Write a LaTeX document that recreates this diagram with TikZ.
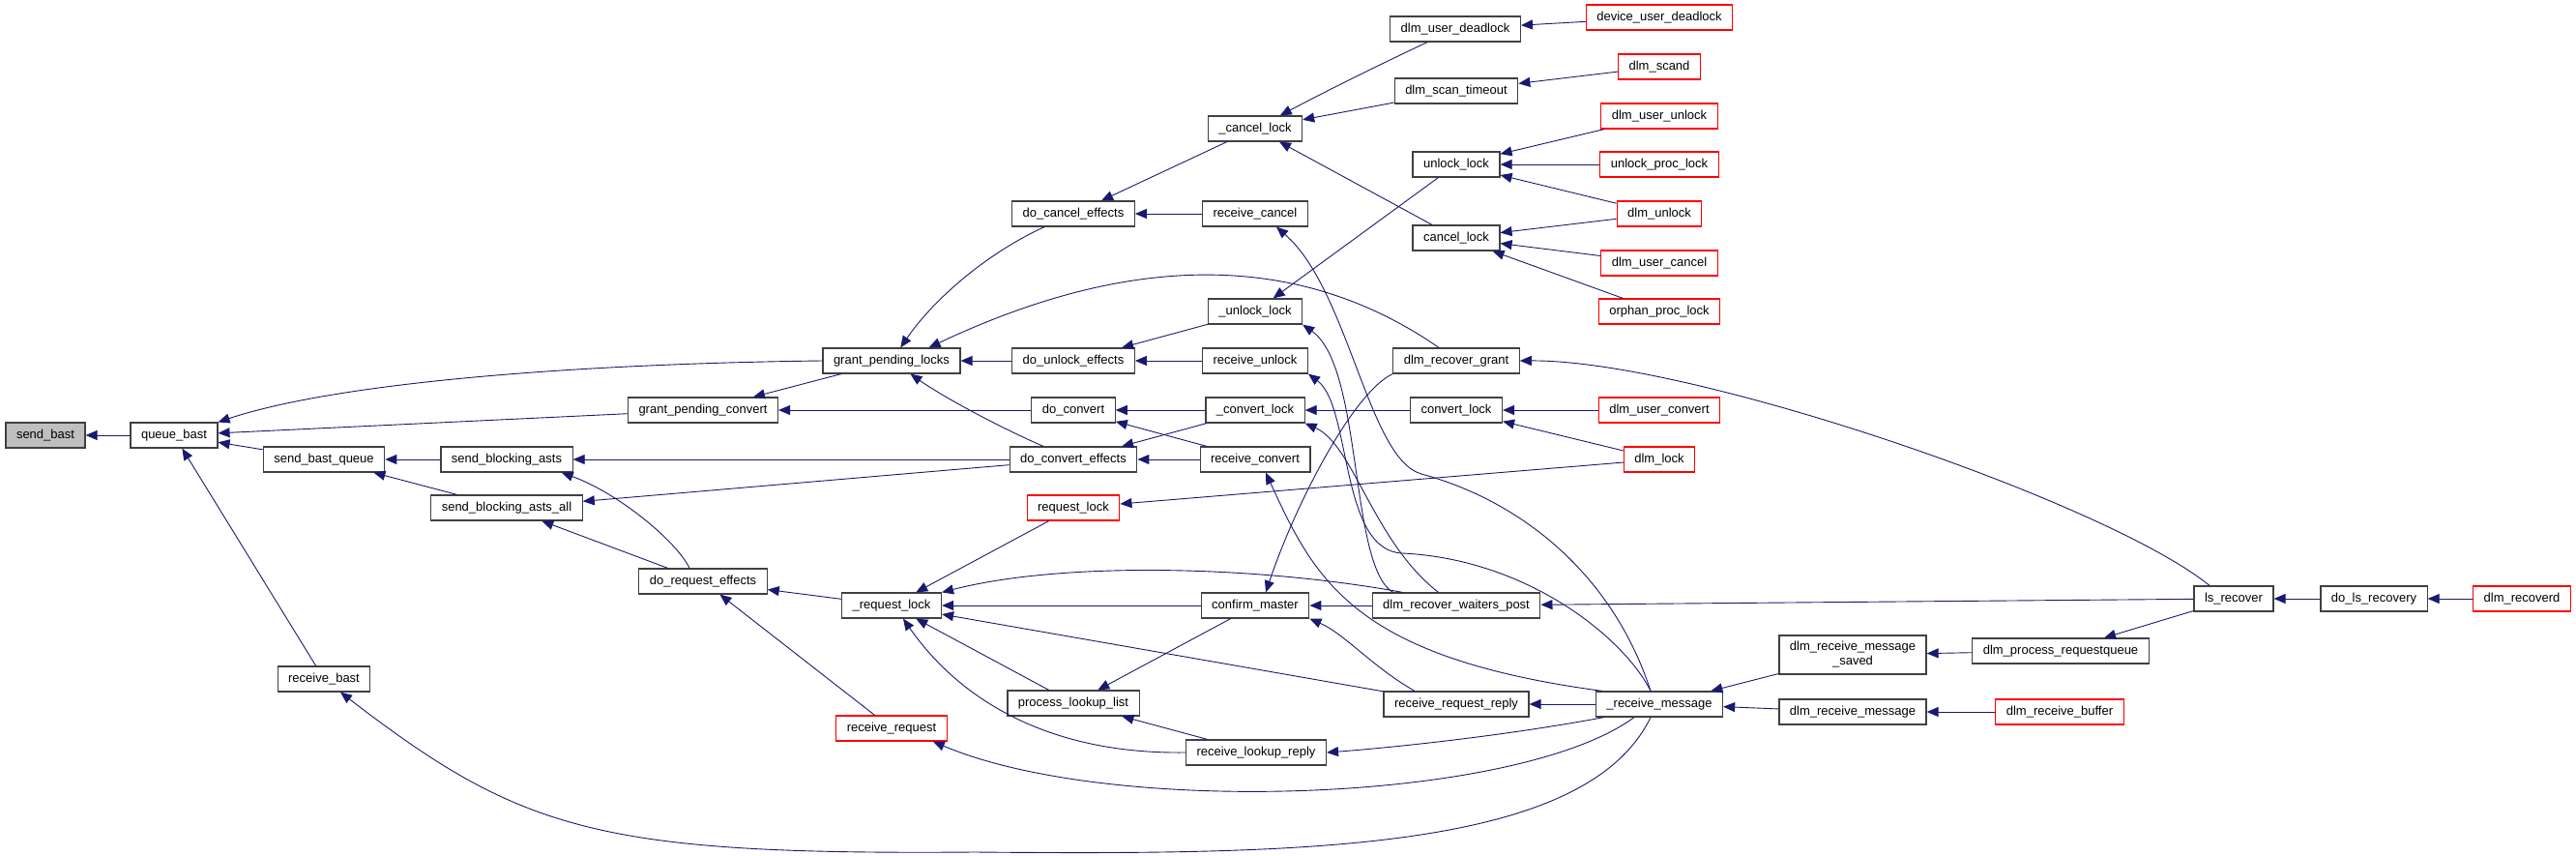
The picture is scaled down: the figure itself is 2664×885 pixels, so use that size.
\documentclass[tikz,border=0pt]{standalone}
\usepackage{fontspec}
\setmainfont{Liberation Sans}
\usetikzlibrary{arrows.meta,calc}
\definecolor{edgecol}{HTML}{191970}
\definecolor{boxcol}{HTML}{404040}
\definecolor{rootfill}{HTML}{BFBFBF}
\definecolor{redbox}{HTML}{FF0000}
\begin{document}
\begin{tikzpicture}[x=1pt,y=1pt,
  fn/.style={draw=boxcol,line width=1.2pt,fill=white,minimum height=26pt,inner xsep=11pt,inner ysep=0pt,font=\fontsize{13}{15}\selectfont},
  redfn/.style={fn,draw=redbox},
  rootfn/.style={fn,fill=rootfill},
  call/.style={draw=edgecol,line width=0.9pt,-{Triangle[length=12pt,width=10pt]}},
]
\useasboundingbox (0,0) rectangle (2664,-885);
% nodes
\node[rootfn] (sendbast) at (47,-450) {send\_bast};
\node[fn] (queuebast) at (180,-450) {queue\_bast};
\node[fn] (sbq) at (335,-475) {send\_bast\_queue};
\node[fn] (rbast) at (335,-702) {receive\_bast};
\node[fn] (sba) at (524,-475) {send\_blocking\_asts};
\node[fn] (sbaall) at (524,-525) {send\_blocking\_asts\_all};
\node[fn] (gpc) at (727,-424) {grant\_pending\_convert};
\node[fn] (dre) at (727,-601) {do\_request\_effects};
\node[fn] (gpl) at (922,-373) {grant\_pending\_locks};
\node[fn] (ureq) at (922,-626) {\_request\_lock};
\node[redfn] (rreq) at (922,-753) {receive\_request};
\node[fn] (dce) at (1110,-221) {do\_cancel\_effects};
\node[fn] (due) at (1110,-373) {do\_unlock\_effects};
\node[fn] (dconv) at (1110,-424) {do\_convert};
\node[fn] (dconveff) at (1110,-475) {do\_convert\_effects};
\node[redfn] (reqlock) at (1110,-525) {request\_lock};
\node[fn] (pll) at (1110,-727) {process\_lookup\_list};
\node[fn] (ucancel) at (1298,-133) {\_cancel\_lock};
\node[fn] (rcancel) at (1298,-221) {receive\_cancel};
\node[fn] (uunlock) at (1298,-322) {\_unlock\_lock};
\node[fn] (runlock) at (1298,-373) {receive\_unlock};
\node[fn] (uconv) at (1298,-424) {\_convert\_lock};
\node[fn] (rconv) at (1298,-475) {receive\_convert};
\node[fn] (cmaster) at (1298,-626) {confirm\_master};
\node[fn] (rlr) at (1299,-778) {receive\_lookup\_reply};
\node[fn] (dud) at (1505,-30) {dlm\_user\_deadlock};
\node[fn] (dst) at (1506,-94) {dlm\_scan\_timeout};
\node[fn] (unlocklock) at (1506,-170) {unlock\_lock};
\node[fn] (cancellock) at (1506,-246) {cancel\_lock};
\node[fn] (drg) at (1506,-373) {dlm\_recover\_grant};
\node[fn] (convlock) at (1506,-424) {convert\_lock};
\node[fn] (drwp) at (1506,-626) {dlm\_recover\_waiters\_post};
\node[fn] (rrr) at (1506,-728) {receive\_request\_reply};
\node[redfn] (devud) at (1716,-18) {device\_user\_deadlock};
\node[redfn] (scand) at (1716,-69) {dlm\_scand};
\node[redfn] (duu) at (1716,-120) {dlm\_user\_unlock};
\node[redfn] (upl) at (1716,-170) {unlock\_proc\_lock};
\node[redfn] (dunlock) at (1716,-221) {dlm\_unlock};
\node[redfn] (duc) at (1716,-272) {dlm\_user\_cancel};
\node[redfn] (opl) at (1716,-322) {orphan\_proc\_lock};
\node[redfn] (duconv) at (1716,-424) {dlm\_user\_convert};
\node[redfn] (dlock) at (1716,-475) {dlm\_lock};
\node[fn] (urecv) at (1716,-728) {\_receive\_message};
\node[fn,minimum height=40pt,align=center] (drms) at (1916,-677) {dlm\_receive\_message\\\_saved};
\node[fn] (drm) at (1916,-736) {dlm\_receive\_message};
\node[fn] (dprq) at (2131,-673) {dlm\_process\_requestqueue};
\node[redfn] (drb) at (2130,-736) {dlm\_receive\_buffer};
\node[fn] (lsrec) at (2310,-619) {ls\_recover};
\node[fn] (dlsr) at (2455,-619) {do\_ls\_recovery};
\node[redfn] (drecd) at (2608,-619) {dlm\_recoverd};
% edges (caller -> callee)
\draw[call] (queuebast) -- (sendbast);
\draw[call] (gpl.west) .. controls (600,-376) and (350,-395) .. (queuebast.north east);
\draw[call] (gpc) -- (queuebast);
\draw[call] (sbq) -- (queuebast);
\draw[call] (rbast) -- (queuebast);
\draw[call] (sba) -- (sbq);
\draw[call] (sbaall) -- (sbq);
\draw[call] (dconveff) -- (sba);
\draw[call] ($(dre.north)+(-14,0)$) .. controls (700,-560) and (640,-510) .. ($(sba.south east)+(-12,0)$);
\draw[call] (dconveff) -- (sbaall);
\draw[call] (dre) -- (sbaall);
\draw[call] (gpl) -- (gpc);
\draw[call] (dconv) -- (gpc);
\draw[call] (dce) .. controls (1020,-262) and (965,-310) .. (gpl);
\draw[call] ($(drg.north)+(-18,0)$) .. controls (1330,-250) and (1150,-270) .. ($(gpl.north east)+(-33,0)$);
\draw[call] (due) -- (gpl);
\draw[call] (dconveff) .. controls (1030,-440) and (975,-410) .. (gpl);
\draw[call] (ucancel) -- (dce);
\draw[call] (rcancel) -- (dce);
\draw[call] (uunlock) -- (due);
\draw[call] (runlock) -- (due);
\draw[call] (uconv) -- (dconv);
\draw[call] (rconv) -- (dconv);
\draw[call] (uconv) -- (dconveff);
\draw[call] (rconv) -- (dconveff);
\draw[call] (dud) .. controls (1420,-70) and (1370,-95) .. (ucancel);
\draw[call] (dst) -- (ucancel);
\draw[call] (cancellock) -- (ucancel);
\draw[call] (devud) -- (dud);
\draw[call] (scand) -- (dst);
\draw[call] (duu) -- (unlocklock);
\draw[call] (upl) -- (unlocklock);
\draw[call] (dunlock) -- (unlocklock);
\draw[call] (dunlock) -- (cancellock);
\draw[call] (duc) -- (cancellock);
\draw[call] (opl) -- (cancellock);
\draw[call] (unlocklock) -- (uunlock);
\draw[call] ($(drwp.north west)+(22,0)$) .. controls (1395,-585) and (1410,-380) .. (uunlock.south east);
\draw[call] ($(urecv.north)+(-9,0)$) .. controls (1670,-600) and (1580,-520) .. (1470,-490) .. controls (1415,-475) and (1395,-300) .. ($(rcancel.south)+(22,0)$);
\draw[call] ($(urecv.north)+(-9,0)$) .. controls (1680,-660) and (1580,-578) .. (1450,-572) .. controls (1385,-569) and (1398,-420) .. (runlock.south east);
\draw[call] ($(urecv.north)+(-59,0)$) .. controls (1400,-680) and (1360,-600) .. ($(rconv.south)+(11,0)$);
\draw[call] ($(drwp.north west)+(69,0)$) .. controls (1420,-560) and (1400,-460) .. (uconv.south east);
\draw[call] ($(drwp.north west)+(32,0)$) .. controls (1300,-585) and (1100,-580) .. (ureq.north east);
\draw[call] (reqlock) -- (ureq);
\draw[call] (cmaster) -- (ureq);
\draw[call] (rrr) -- (ureq);
\draw[call] (pll) -- (ureq);
\draw[call] (rlr.west) .. controls (1080,-780) and (990,-720) .. ($(ureq.south)+(12,0)$);
\draw[call] (ureq) -- (dre);
\draw[call] (rreq) -- (dre);
\draw[call] ($(urecv.south)+(-26,0)$) .. controls (1570,-830) and (1150,-845) .. ($(rreq.south east)+(-15,0)$);
\draw[call] (cmaster) -- (pll);
\draw[call] (rlr) -- (pll);
\draw[call] ($(urecv.south west)+(9,0)$) .. controls (1560,-760) and (1450,-772) .. (rlr.east);
\draw[call] (urecv) -- (rrr);
\draw[call] (drwp) -- (cmaster);
\draw[call] ($(rrr.north)+(-43,0)$) .. controls (1420,-690) and (1390,-655) .. (cmaster.south east);
\draw[call] (drg.south west) .. controls (1400,-405) and (1340,-520) .. ($(cmaster.north)+(11,0)$);
\draw[call] ($(lsrec.north)+(-25,0)$) .. controls (2180,-520) and (1750,-372) .. (drg.east);
\draw[call] (lsrec) -- (drwp);
\draw[call] (duconv) -- (convlock);
\draw[call] (dlock) -- (convlock);
\draw[call] (convlock) -- (uconv);
\draw[call] (dlock) -- (reqlock);
\draw[call] (drms) -- (urecv);
\draw[call] (drm) -- (urecv);
\draw[call] (dprq) -- (drms);
\draw[call] (lsrec) -- (dprq);
\draw[call] (dlsr) -- (lsrec);
\draw[call] (drecd) -- (dlsr);
\draw[call] (drb) -- (drm);
\draw[call] ($(urecv.south)+(-9,0)$) .. controls (1640,-880) and (1350,-884) .. (1008,-881) .. controls (620,-884) and (540,-860) .. ($(rbast.south)+(17,0)$);
\end{tikzpicture}
\end{document}
